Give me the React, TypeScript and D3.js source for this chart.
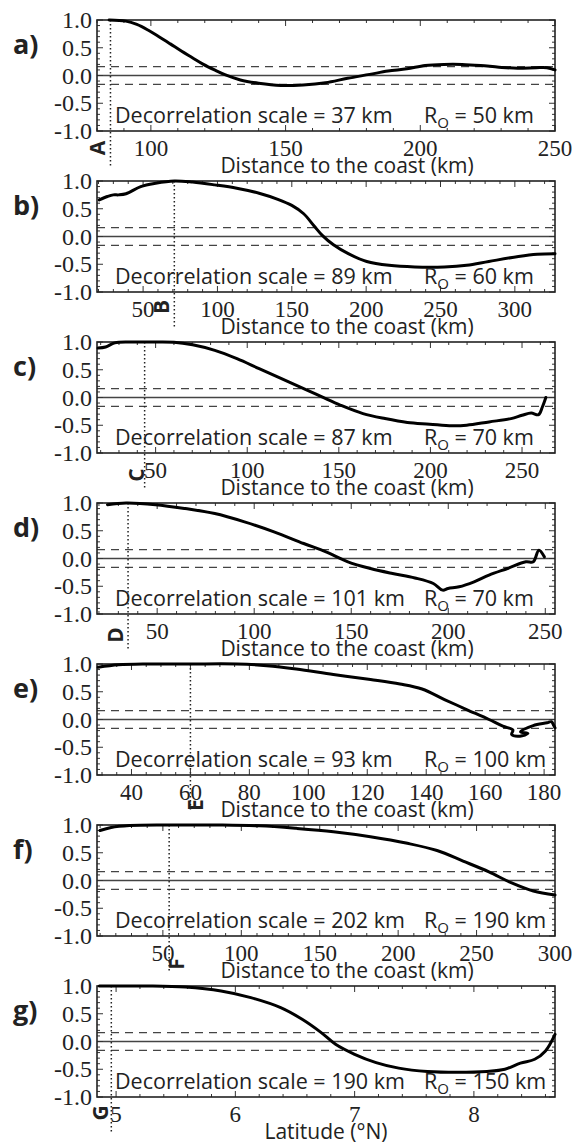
import React from "react";
import * as d3 from "d3";

// ---- data ----
const distA = [84.5, 90.7, 94.8, 98.9, 103, 107.2, 111.3, 115.4, 119.5, 123.6, 127.7, 133.2, 140, 148.3, 156.5, 164.8, 173, 181.2, 188, 195, 201.8, 208.7, 215.5, 222.4, 229.2, 236.1, 243, 247, 250];
const corrA = [1.0, 0.98, 0.92, 0.82, 0.7, 0.57, 0.44, 0.32, 0.2, 0.1, 0.01, -0.08, -0.14, -0.18, -0.17, -0.13, -0.05, 0.02, 0.08, 0.12, 0.18, 0.2, 0.2, 0.18, 0.15, 0.13, 0.14, 0.14, 0.1];

const distB = [20.5, 26, 30, 33.5, 38.5, 48.4, 58.4, 71, 83.3, 98.2, 113, 128, 140.6, 150, 158, 165, 170.5, 178, 188, 200.4, 215.4, 232.7, 252.6, 267.6, 282.5, 302.4, 315, 327];
const corrB = [0.66, 0.72, 0.75, 0.75, 0.77, 0.9, 0.96, 1.0, 0.98, 0.93, 0.87, 0.78, 0.67, 0.56, 0.41, 0.19, 0.02, -0.15, -0.31, -0.45, -0.52, -0.55, -0.55, -0.52, -0.45, -0.36, -0.32, -0.31];

const distC = [18.6, 22.7, 27.7, 35.8, 45.9, 60, 70.2, 82.3, 94.4, 106.5, 118.7, 130.8, 140.8, 151, 163.2, 175.2, 187.4, 199.6, 211.7, 219.8, 232, 244, 250, 255, 259, 261, 263];
const corrC = [0.89, 0.91, 0.985, 1.0, 1.0, 0.997, 0.95, 0.85, 0.7, 0.52, 0.34, 0.16, 0.01, -0.14, -0.29, -0.38, -0.45, -0.48, -0.51, -0.5, -0.44, -0.38, -0.32, -0.28, -0.31, -0.18, 0.0];

const distD = [24.4, 34, 49.2, 64.4, 79.7, 95, 110.2, 125.5, 137, 148.3, 159.9, 171.3, 182.8, 192.3, 197.1, 199.9, 205.6, 213.3, 221, 230.5, 240, 243.8, 246.7, 249.5];
const corrD = [0.97, 1.0, 0.97, 0.9, 0.81, 0.66, 0.48, 0.27, 0.12, -0.06, -0.18, -0.27, -0.35, -0.45, -0.57, -0.54, -0.51, -0.42, -0.3, -0.18, -0.06, -0.06, 0.15, 0.03];

const distE = [28.7, 35.6, 45.6, 59.5, 75.8, 85.9, 95.9, 108.5, 121.1, 131.1, 138.6, 146.2, 153.7, 161.3, 166, 169.4, 169, 171.8, 174.5, 172, 176.3, 181, 182.5, 183.2, 183.7];
const corrE = [0.94, 0.985, 1.0, 1.0, 1.0, 0.97, 0.91, 0.81, 0.72, 0.64, 0.55, 0.36, 0.18, 0.0, -0.12, -0.19, -0.27, -0.3, -0.25, -0.22, -0.11, -0.06, -0.04, -0.1, -0.15];

const distF = [9.9, 17, 28.8, 52.4, 87.8, 111.5, 135, 158.7, 182.3, 205.9, 224.8, 241.4, 257.9, 272, 286.2, 300];
const corrF = [0.9, 0.955, 0.99, 1.0, 1.0, 0.985, 0.94, 0.88, 0.79, 0.67, 0.54, 0.35, 0.155, -0.04, -0.19, -0.26];

const latG = [4.86, 4.957, 5.27, 5.58, 5.88, 6.13, 6.38, 6.56, 6.72, 6.84, 7.0, 7.18, 7.37, 7.61, 7.86, 8.11, 8.26, 8.39, 8.51, 8.6, 8.68];
const corrG = [1.0, 1.0, 1.0, 0.98, 0.91, 0.79, 0.61, 0.4, 0.16, -0.05, -0.23, -0.38, -0.48, -0.54, -0.555, -0.54, -0.5, -0.39, -0.32, -0.17, 0.13];

const yTicks = [1.0, 0.5, 0.0, -0.5, -1.0];
const sigLevel = 0.16;

const distTitle = "Distance to the coast (km)";
const latTitle = "Latitude (°N)";

const panels = [
  { id: "a", letter: "A", xs: distA, ys: corrA, domain: [80, 250], ticks: [100, 150, 200, 250], minor: 10, mark: 85, decor: 37, ro: 50, title: distTitle },
  { id: "b", letter: "B", xs: distB, ys: corrB, domain: [19, 327], ticks: [50, 100, 150, 200, 250, 300], minor: 10, mark: 71, decor: 89, ro: 60, title: distTitle },
  { id: "c", letter: "C", xs: distC, ys: corrC, domain: [18, 268], ticks: [50, 100, 150, 200, 250], minor: 10, mark: 44, decor: 87, ro: 70, title: distTitle },
  { id: "d", letter: "D", xs: distD, ys: corrD, domain: [19, 255], ticks: [50, 100, 150, 200, 250], minor: 10, mark: 35, decor: 101, ro: 70, title: distTitle },
  { id: "e", letter: "E", xs: distE, ys: corrE, domain: [28.3, 183.7], ticks: [40, 60, 80, 100, 120, 140, 160, 180], minor: 5, mark: 60, decor: 93, ro: 100, title: distTitle },
  { id: "f", letter: "F", xs: distF, ys: corrF, domain: [8, 300], ticks: [50, 100, 150, 200, 250, 300], minor: 10, mark: 54, decor: 202, ro: 190, title: distTitle },
  { id: "g", letter: "G", xs: latG, ys: corrG, domain: [4.84, 8.68], ticks: [5, 6, 7, 8], minor: 0.2, mark: 4.96, decor: 190, ro: 150, title: latTitle },
];

// letter placement relative to the dotted line / axis bottom (px)
const letterOffsets = [
  [-12, 17],
  [-12, 15],
  [-8, 22],
  [-12, 21],
  [6, 30],
  [8, 28],
  [-10, 16],
];

// ---- layout ----
const W = 581;
const H = 1148;
const plotLeft = 97;
const plotRight = 555;
const firstTop = 20;
const step = 161;
const plotH = 111;

const serif = "'Liberation Serif', 'Times New Roman', Times, serif";
const sans = "'Open Sans', 'Noto Sans', sans-serif";

function Panel({ p, i }: { p: (typeof panels)[number]; i: number }) {
  const top = firstTop + i * step;
  const bottom = top + plotH;
  const x = d3.scaleLinear().domain(p.domain).range([plotLeft, plotRight]);
  const y = d3.scaleLinear().domain([-1, 1]).range([bottom, top]);

  const line = d3
    .line<number>()
    .x((_, k) => x(p.xs[k]))
    .y((d) => y(d))
    .curve(d3.curveCatmullRom.alpha(0.5));

  const minorX: number[] = [];
  for (let k = Math.ceil(p.domain[0] / p.minor); k * p.minor <= p.domain[1] + 1e-9; k++) {
    minorX.push(k * p.minor);
  }
  const minorY = d3.range(-10, 11).map((k) => k / 10);

  const [ldx, ldy] = letterOffsets[i];
  const markX = x(p.mark);
  const titleX = p.title === latTitle ? (plotLeft + plotRight) / 2 : 347;

  return (
    <g>
      {/* panel label */}
      <text x={13} y={top + 34} fontFamily={sans} fontWeight="bold" fontSize={27} fill="#222">
        {p.id + ")"}
      </text>

      {/* reference lines */}
      <line x1={plotLeft} x2={plotRight} y1={y(0)} y2={y(0)} stroke="#444" strokeWidth={1.3} />
      {[sigLevel, -sigLevel].map((s) => (
        <line key={s} x1={plotLeft} x2={plotRight} y1={y(s)} y2={y(s)} stroke="#444" strokeWidth={1.3} strokeDasharray="8,6" />
      ))}

      {/* dotted marker */}
      <line x1={markX} x2={markX} y1={top} y2={bottom + 35} stroke="#222" strokeWidth={1.5} strokeDasharray="1.5,2.5" />

      {/* ticks */}
      {minorY.map((v) => {
        const major = Math.abs(v * 2 - Math.round(v * 2)) < 1e-6;
        const len = major ? 6 : 3;
        return (
          <g key={"y" + v}>
            <line x1={plotLeft} x2={plotLeft + len} y1={y(v)} y2={y(v)} stroke="#333" strokeWidth={1} />
            <line x1={plotRight} x2={plotRight - len} y1={y(v)} y2={y(v)} stroke="#333" strokeWidth={1} />
          </g>
        );
      })}
      {minorX.map((v) => {
        const major = p.ticks.some((t) => Math.abs(t - v) < 1e-6);
        const len = major ? 6 : 3;
        return (
          <g key={"x" + v}>
            <line x1={x(v)} x2={x(v)} y1={bottom} y2={bottom - len} stroke="#333" strokeWidth={1} />
            <line x1={x(v)} x2={x(v)} y1={top} y2={top + len} stroke="#333" strokeWidth={1} />
          </g>
        );
      })}

      {/* frame */}
      <rect x={plotLeft} y={top} width={plotRight - plotLeft} height={plotH} fill="none" stroke="#222" strokeWidth={1.6} />

      {/* curve */}
      <path d={line(p.ys) || ""} fill="none" stroke="#000" strokeWidth={3} strokeLinejoin="round" strokeLinecap="round" />

      {/* y tick labels */}
      {yTicks.map((v) => (
        <text key={"yl" + v} x={92} y={y(v) + 8} textAnchor="end" fontFamily={serif} fontSize={24} fill="#222">
          {v.toFixed(1)}
        </text>
      ))}

      {/* x tick labels */}
      {p.ticks.map((v) => (
        <text key={"xl" + v} x={x(v)} y={bottom + 25} textAnchor="middle" fontFamily={serif} fontSize={23} fill="#222">
          {String(v)}
        </text>
      ))}

      {/* annotations */}
      <text x={115} y={bottom - 8} fontFamily={sans} fontSize={21.5} fill="#222">
        {`Decorrelation scale = ${p.decor} km`}
      </text>
      <text x={424} y={bottom - 8} fontFamily={sans} fontSize={21.5} fill="#222">
        R
        <tspan dy={5} fontSize={15}>O</tspan>
        <tspan dy={-5}>{` = ${p.ro} km`}</tspan>
      </text>

      {/* axis title */}
      <text x={titleX} y={bottom + 42} textAnchor="middle" fontFamily={sans} fontSize={21} fill="#222">
        {p.title}
      </text>

      {/* rotated letter */}
      <text
        transform={`translate(${markX + ldx},${bottom + ldy}) rotate(-90)`}
        textAnchor="middle"
        dy={7}
        fontFamily={sans}
        fontWeight="bold"
        fontSize={21}
        fill="#222"
      >
        {p.letter}
      </text>
    </g>
  );
}

export default function App() {
  return (
    <div style={{ position: "absolute", left: 0, top: 0 }}>
      <svg width={W} height={H} style={{ display: "block", background: "#fff" }}>
        {panels.map((p, i) => (
          <Panel key={p.id} p={p} i={i} />
        ))}
      </svg>
    </div>
  );
}
